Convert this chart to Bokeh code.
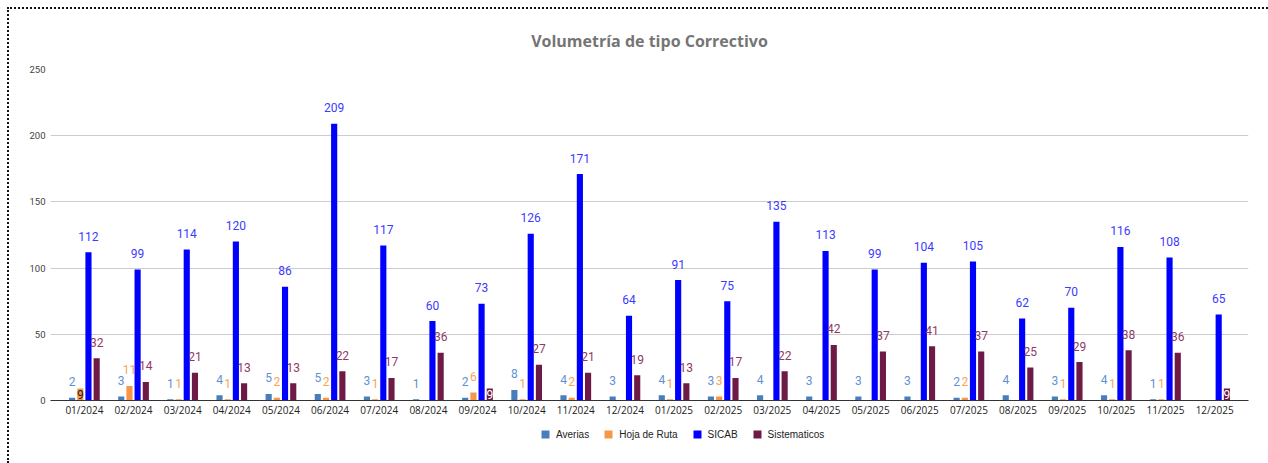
from bokeh.plotting import figure
from bokeh.layouts import column
from bokeh.models import ColumnDataSource, FactorRange, Legend, LegendItem, FixedTicker
from bokeh.transform import dodge
from bokeh.core.properties import value
from bokeh.embed import file_html
from bokeh.resources import INLINE

months = ["01/2024", "02/2024", "03/2024", "04/2024", "05/2024", "06/2024",
          "07/2024", "08/2024", "09/2024", "10/2024", "11/2024", "12/2024",
          "01/2025", "02/2025", "03/2025", "04/2025", "05/2025", "06/2025",
          "07/2025", "08/2025", "09/2025", "10/2025", "11/2025", "12/2025"]
averias = [2, 3, 1, 4, 5, 5, 3, 1, 2, 8, 4, 3, 4, 3, 4, 3, 3, 3, 2, 4, 3, 4, 1, None]
hoja_de_ruta = [9, 11, 1, 1, 2, 2, 1, None, 6, 1, 2, None, 1, 3, None, None, None, None,
                2, None, 1, 1, 1, None]
sicab = [112, 99, 114, 120, 86, 209, 117, 60, 73, 126, 171, 64, 91, 75, 135, 113, 99, 104,
         105, 62, 70, 116, 108, 65]
sistematicos = [32, 14, 21, 13, 13, 22, 17, 36, 9, 27, 21, 19, 13, 17, 22, 42, 37, 41,
                37, 25, 29, 38, 36, 9]
y_ticks = [0, 50, 100, 150, 200, 250]

series = [
    ("Averias", averias, "#4a7ebb", "#5f91d4", "#222222", -0.25),
    ("Hoja de Ruta", hoja_de_ruta, "#f79646", "#f9a458", "#222222", -0.083),
    ("SICAB", sicab, "#0000ff", "#3b3bff", "#ffffff", 0.083),
    ("Sistematicos", sistematicos, "#6e1a47", "#8e3a66", "#ffffff", 0.25),
]

p = figure(width=1259, height=414, output_backend="svg", toolbar_location=None,
           x_range=FactorRange(factors=months, range_padding=0.0158),
           y_range=(0, 250),
           min_border_left=41, min_border_right=20, min_border_top=56, min_border_bottom=23)
p.outline_line_color = None
p.background_fill_color = "white"
p.border_fill_color = "white"

p.title.text = "Volumetría de tipo Correctivo"
p.title.align = "center"
p.title.text_font = "Open Sans"
p.title.text_font_style = "bold"
p.title.text_font_size = "16px"
p.title.text_color = "#757575"
p.title.standoff = 36

p.yaxis.ticker = FixedTicker(ticks=y_ticks)
p.yaxis.axis_line_color = None
p.yaxis.major_tick_line_color = None
p.yaxis.minor_tick_line_color = None
p.yaxis.major_tick_out = 0
p.yaxis.major_tick_in = 0
p.yaxis.major_label_text_font = "Roboto"
p.yaxis.major_label_text_font_size = "9.5px"
p.yaxis.major_label_text_color = "#444444"
p.yaxis.major_label_standoff = 5

p.xaxis.axis_line_color = "#333333"
p.xaxis.axis_line_width = 1
p.xaxis.major_tick_line_color = None
p.xaxis.minor_tick_line_color = None
p.xaxis.major_tick_out = 0
p.xaxis.major_tick_in = 0
p.xaxis.major_label_text_font = "Open Sans"
p.xaxis.major_label_text_font_size = "10px"
p.xaxis.major_label_text_color = "#222222"
p.xaxis.major_label_standoff = 2

p.xgrid.grid_line_color = None
p.ygrid.grid_line_color = "#cccccc"

# legend strip below the chart
pl = figure(width=1259, height=40, output_backend="svg", toolbar_location=None,
            x_range=(0, 1), y_range=(0, 1), min_border=0,
            x_axis_location=None, y_axis_location=None)
pl.outline_line_color = None
pl.xgrid.grid_line_color = None
pl.ygrid.grid_line_color = None
pl.background_fill_color = "white"
pl.border_fill_color = "white"

items = []
for name, vals, color, lcolor, icolor, off in series:
    top = [0.0 if v is None else float(v) for v in vals]
    src = ColumnDataSource(dict(month=months, top=top))
    p.vbar(x=dodge("month", off, range=p.x_range), top="top", width=0.125, source=src,
           fill_color=color, line_color=None)
    # legend swatch renderer (zero-height bar, only its colour is shown in the legend)
    lr = pl.vbar(x=[0.5], top=[0.0], width=0.1, fill_color=color, line_color=None)
    items.append(LegendItem(label=name, renderers=[lr]))

    out_m, out_y, out_t, in_m, in_y, in_t = [], [], [], [], [], []
    for m, v in zip(months, vals):
        if v is None:
            continue
        if 9 <= v < 10:
            in_m.append(m); in_y.append(v / 2); in_t.append(str(v))
        else:
            out_m.append(m); out_y.append(v); out_t.append(str(v))
    p.text(x=dodge("month", off, range=p.x_range), y="y", text="t",
           source=ColumnDataSource(dict(month=out_m, y=out_y, t=out_t)),
           text_font=value("Roboto"), text_font_size="12px", text_color=lcolor,
           text_align="center", text_baseline="middle", y_offset=-16)
    if in_m:
        p.text(x=dodge("month", off, range=p.x_range), y="y", text="t",
               source=ColumnDataSource(dict(month=in_m, y=in_y, t=in_t)),
               text_font=value("Roboto"), text_font_size="12px", text_color=icolor,
               text_align="center", text_baseline="middle")

legend = Legend(items=items, orientation="horizontal", location=(490, 23),
                glyph_width=10, glyph_height=10, label_height=12, label_standoff=6,
                label_text_font="Liberation Sans", label_text_baseline="middle",
                label_text_font_size="10px", label_text_color="#222222",
                spacing=14, padding=0, margin=0, border_line_color=None,
                background_fill_alpha=0)
pl.add_layout(legend, "center")

layout = column(p, pl, spacing=0, margin=(7, 0, 0, 7),
                styles={"border-left": "2px dotted #111111",
                        "border-top": "2px dotted #111111",
                        "background-color": "white"})
open("out.html", "w").write(file_html(layout, INLINE))
